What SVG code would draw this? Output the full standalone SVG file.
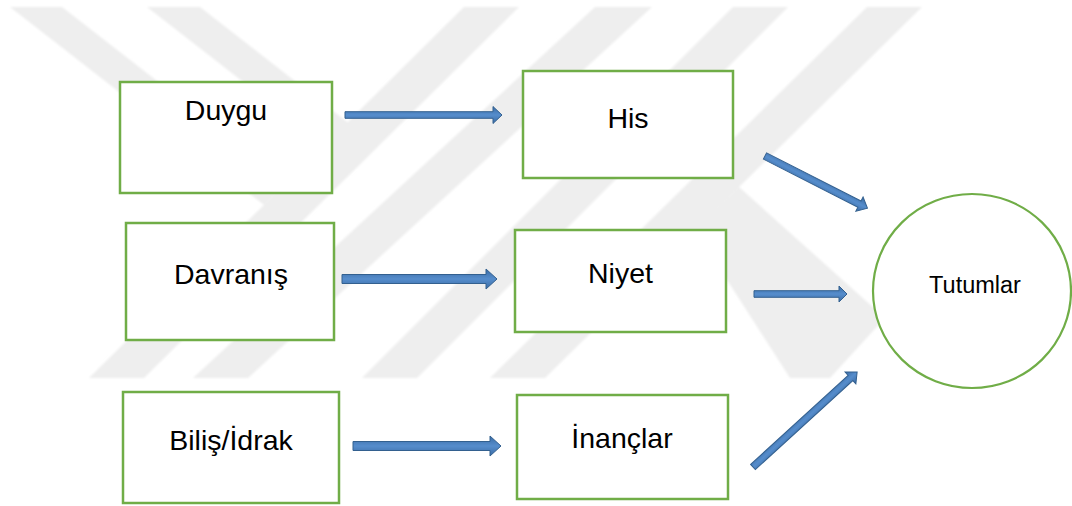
<svg xmlns="http://www.w3.org/2000/svg" width="1072" height="506" viewBox="0 0 1072 506">
  <style>
    .mark { fill: #eeeeee; }
    .box { fill: #ffffff; stroke: #70ad47; stroke-width: 2.5; }
    .oval { fill: #ffffff; stroke: #70ad47; stroke-width: 2.2; }
    .label { font-family: "Liberation Sans", Arial, sans-serif; font-size: 28.5px; fill: #000000; text-anchor: middle; }
    .small { font-size: 23.5px; }
    .arrow { fill: url(#arrowFill); stroke: #33608f; stroke-width: 1; stroke-linejoin: miter; }
  </style>
  <defs>
    <linearGradient id="arrowFill" x1="0" y1="0" x2="0" y2="1">
      <stop offset="0" stop-color="#3a6ba4"/>
      <stop offset="0.5" stop-color="#568dcc"/>
      <stop offset="1" stop-color="#3a6ba4"/>
    </linearGradient>
    <filter id="soft" x="-5%" y="-5%" width="110%" height="110%">
      <feGaussianBlur stdDeviation="1"/>
    </filter>
  </defs>

  <rect width="1072" height="506" fill="#ffffff"/>

  <!-- background emblem bands -->
  <g id="emblem" filter="url(#soft)">
    <polygon class="mark" points="10,7 62,7 287,182 264,205"/>
    <polygon class="mark" points="147,7 200,7 378,146 355,169"/>
    <polygon class="mark" points="464,7 519,7 144,378 89,378"/>
    <polygon class="mark" points="595,7 652,7 248,378 193,378"/>
    <polygon class="mark" points="733,7 788,7 417,378 362,378"/>
    <polygon class="mark" points="867,7 922,7 545,378 490,378"/>
    <polygon class="mark" points="739,187 885,318 830,378 790,378 695,230"/>
  </g>

  <!-- connectors -->
  <g id="connectors">
    <path class="arrow" transform="translate(345,115)" d="M0,-3.3 L148,-3.3 L148,-8.5 L157,0 L148,8.5 L148,3.3 L0,3.3 Z"/>
    <path class="arrow" transform="translate(342,279)" d="M0,-4.5 L144,-4.5 L144,-10 L155,0 L144,10 L144,4.5 L0,4.5 Z"/>
    <path class="arrow" transform="translate(353,446)" d="M0,-4.5 L137,-4.5 L137,-10 L148,0 L137,10 L137,4.5 L0,4.5 Z"/>
    <path class="arrow" transform="translate(754,294)" d="M0,-3.3 L85,-3.3 L85,-8 L93,0 L85,8 L85,3.3 L0,3.3 Z"/>
    <path class="arrow" transform="translate(765,156) rotate(27)" d="M0,-3.5 L106,-3.5 L106,-8 L115,0 L106,8 L106,3.5 L0,3.5 Z"/>
    <path class="arrow" transform="translate(753,467) rotate(-42.4)" d="M0,-3.5 L132,-3.5 L132,-8 L141,0 L132,8 L132,3.5 L0,3.5 Z"/>
  </g>

  <!-- source components -->
  <g id="duygu">
    <rect class="box" x="120" y="82" width="212" height="111"/>
    <text class="label" x="226" y="119.5">Duygu</text>
  </g>
  <g id="davranis">
    <rect class="box" x="126" y="223" width="208" height="117"/>
    <text class="label" x="231" y="284">Davranış</text>
  </g>
  <g id="bilis">
    <rect class="box" x="123" y="392" width="216" height="111"/>
    <text class="label" x="231" y="449.5">Biliş/İdrak</text>
  </g>

  <!-- intermediate components -->
  <g id="his">
    <rect class="box" x="523" y="71" width="210" height="107"/>
    <text class="label" x="628" y="128">His</text>
  </g>
  <g id="niyet">
    <rect class="box" x="515" y="230" width="211" height="102"/>
    <text class="label" x="620.5" y="283">Niyet</text>
  </g>
  <g id="inanclar">
    <rect class="box" x="517" y="395" width="211" height="104"/>
    <text class="label" x="622" y="448">İnançlar</text>
  </g>

  <!-- result -->
  <g id="tutumlar">
    <ellipse class="oval" cx="972" cy="291" rx="99" ry="97"/>
    <text class="label small" x="975" y="293">Tutumlar</text>
  </g>
</svg>
